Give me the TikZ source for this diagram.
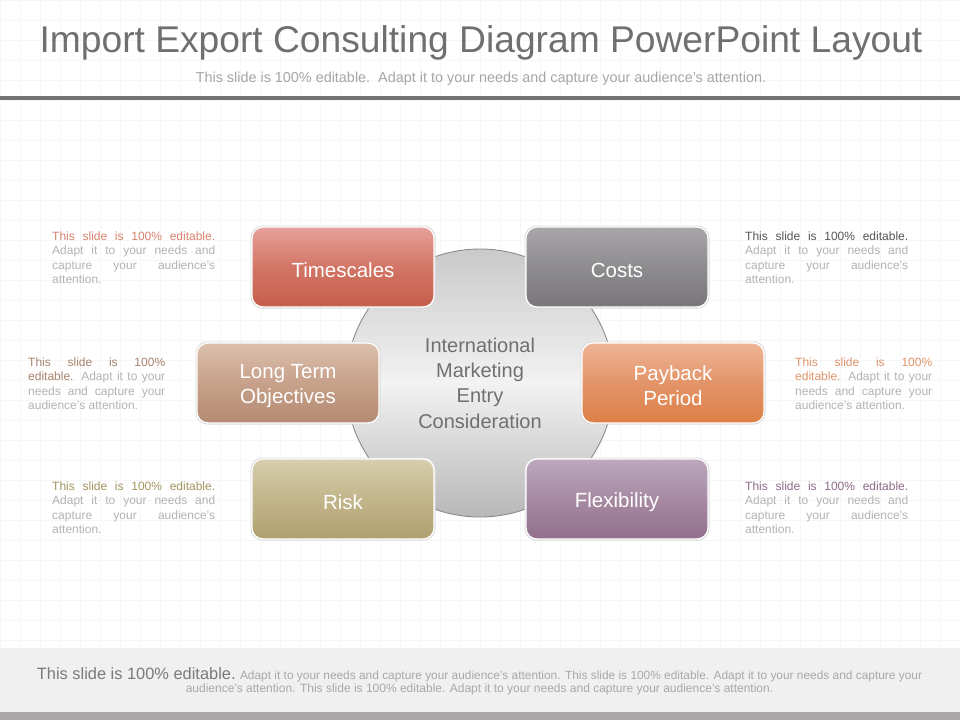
\documentclass[tikz,border=0pt]{standalone}
\usepackage{fontspec}
\setmainfont{Liberation Sans}
\definecolor{titlegray}{HTML}{6F6F6F}
\definecolor{subgray}{HTML}{A6A6A6}
\definecolor{rulegray}{HTML}{737373}
\definecolor{sidegray}{HTML}{B3B3B3}
\definecolor{gridgray}{HTML}{F6F6F6}
\definecolor{footbg}{HTML}{F0F0F0}
\definecolor{footdark}{HTML}{AAA8A9}
\definecolor{footbig}{HTML}{7A7A7A}
\definecolor{footsmall}{HTML}{A8A8A8}
\definecolor{hubline}{HTML}{8A8A8A}
\definecolor{hubtext}{HTML}{707070}
\definecolor{tsA}{HTML}{E7A19C}\definecolor{tsB}{HTML}{D27565}\definecolor{tsC}{HTML}{C55E4B}
\definecolor{coA}{HTML}{A8A6A9}\definecolor{coB}{HTML}{8E8C8F}\definecolor{coC}{HTML}{78767A}
\definecolor{ltA}{HTML}{DBBFAD}\definecolor{ltB}{HTML}{C7A18A}\definecolor{ltC}{HTML}{B48A72}
\definecolor{pbA}{HTML}{EEB596}\definecolor{pbB}{HTML}{E39468}\definecolor{pbC}{HTML}{DC7F45}
\definecolor{rkA}{HTML}{D7CEAE}\definecolor{rkB}{HTML}{C2B58A}\definecolor{rkC}{HTML}{AFA06F}
\definecolor{fxA}{HTML}{BDA8BD}\definecolor{fxB}{HTML}{A68AA2}\definecolor{fxC}{HTML}{926F8D}
\definecolor{tsT}{HTML}{D9826F}
\definecolor{coT}{HTML}{555555}
\definecolor{ltT}{HTML}{A8836C}
\definecolor{pbT}{HTML}{E0946A}
\definecolor{rkT}{HTML}{A3945E}
\definecolor{fxT}{HTML}{8E6A88}
\begin{document}
\begin{tikzpicture}[x=1pt,y=-1pt,
  boxnode/.style={rounded corners=11pt, minimum width=182pt, minimum height=80pt,
    draw=white, line width=1.3pt, inner sep=0pt},
  boxlabel/.style={text=white, font=\fontsize{20.5}{25}\selectfont, align=center,
    inner sep=0pt, yshift=-3pt},
  boxhalo/.style={rounded corners=12pt, minimum width=185pt, minimum height=83pt,
    fill=black!14, inner sep=0pt},
  sidetext/.style={anchor=north west, inner sep=0pt, align=left,
    font=\fontsize{12}{14.4}\selectfont, text=sidegray}
]
\useasboundingbox (0,0) rectangle (960,720);
\fill[white] (0,0) rectangle (960,720);
% faint grid
\foreach \gx in {0,20,...,960} {\draw[gridgray, line width=0.5pt] (\gx,0) -- (\gx,648);}
\foreach \gy in {0,20,...,640} {\draw[gridgray, line width=0.5pt] (0,\gy) -- (960,\gy);}
% title
\node[anchor=base, inner sep=0pt, text=titlegray, font=\fontsize{37.2}{40}\selectfont] (title) at (481,52)
  {Import Export Consulting Diagram PowerPoint Layout};
\node[anchor=base, inner sep=0pt, text=subgray, font=\fontsize{14.4}{16}\selectfont] (subtitle) at (481,82)
  {This slide is 100\% editable.\ \ Adapt it to your needs and capture your audience's attention.};
\fill[rulegray] (0,96) rectangle (960,100);
% hub
\node[circle, minimum size=268pt, inner sep=0pt, draw=hubline, line width=0.9pt,
  top color=black!21, bottom color=black!28, middle color=black!5,
  text=hubtext, align=center, font=\fontsize{20}{25.3}\selectfont] (hub) at (480,383)
  {International\\Marketing\\Entry\\Consideration};
% boxes
\foreach \p in {(343,267),(617,267),(288,383),(673,383),(343,499),(617,499)}
  {\node[boxhalo] at \p {};}
\node[boxnode, top color=tsA, bottom color=tsC, middle color=tsB] (ts) at (343,267) {};
\node[boxnode, top color=coA, bottom color=coC, middle color=coB] (co) at (617,267) {};
\node[boxnode, top color=ltA, bottom color=ltC, middle color=ltB] (lt) at (288,383) {};
\node[boxnode, top color=pbA, bottom color=pbC, middle color=pbB] (pb) at (673,383) {};
\node[boxnode, top color=rkA, bottom color=rkC, middle color=rkB] (rk) at (343,499) {};
\node[boxnode, top color=fxA, bottom color=fxC, middle color=fxB] (fx) at (617,499) {};
\node[boxlabel] (tslab) at (ts) {Timescales};
\node[boxlabel] (colab) at (co) {Costs};
\node[boxlabel] (ltlab) at (lt) {Long Term\\Objectives};
\node[boxlabel] (pblab) at (pb) {Payback\\Period};
\node[boxlabel] (rklab) at (rk) {Risk};
\node[boxlabel] (fxlab) at (fx) {Flexibility};
% side texts
\node[sidetext] (tstxt) at (52,231.5) {\makebox[163pt][s]{\color{tsT}This slide is 100\% editable.}\\
  \makebox[163pt][s]{Adapt it to your needs and}\\
  \makebox[163pt][s]{capture your audience's}\\ attention.};
\node[sidetext] (cotxt) at (745,231.5) {\makebox[163pt][s]{\color{coT}This slide is 100\% editable.}\\
  \makebox[163pt][s]{Adapt it to your needs and}\\
  \makebox[163pt][s]{capture your audience's}\\ attention.};
\node[sidetext] (lttxt) at (28,357.5) {\makebox[137pt][s]{\color{ltT}This slide is 100\%}\\
  \makebox[137pt][s]{{\color{ltT}editable.} Adapt it to your}\\
  \makebox[137pt][s]{needs and capture your}\\ audience's attention.};
\node[sidetext] (pbtxt) at (795,357.5) {\makebox[137pt][s]{\color{pbT}This slide is 100\%}\\
  \makebox[137pt][s]{{\color{pbT}editable.} Adapt it to your}\\
  \makebox[137pt][s]{needs and capture your}\\ audience's attention.};
\node[sidetext] (rktxt) at (52,481.5) {\makebox[163pt][s]{\color{rkT}This slide is 100\% editable.}\\
  \makebox[163pt][s]{Adapt it to your needs and}\\
  \makebox[163pt][s]{capture your audience's}\\ attention.};
\node[sidetext] (fxtxt) at (745,481.5) {\makebox[163pt][s]{\color{fxT}This slide is 100\% editable.}\\
  \makebox[163pt][s]{Adapt it to your needs and}\\
  \makebox[163pt][s]{capture your audience's}\\ attention.};
% footer
\fill[footbg] (0,648) rectangle (960,712);
\fill[footdark] (0,712) rectangle (960,720);
\node[anchor=base, inner sep=0pt, text=footsmall, font=\fontsize{11.9}{13.5}\selectfont] (foot1) at (479.5,679)
  {{\color{footbig}\fontsize{16.4}{18}\selectfont This slide is 100\% editable.} Adapt it to your needs and capture your audience's attention. This slide is 100\% editable. Adapt it to your needs and capture your};
\node[anchor=base, inner sep=0pt, text=footsmall, font=\fontsize{12}{13.5}\selectfont] (foot2) at (479.5,692.5)
  {audience's attention. This slide is 100\% editable. Adapt it to your needs and capture your audience's attention.};
\end{tikzpicture}
\end{document}
